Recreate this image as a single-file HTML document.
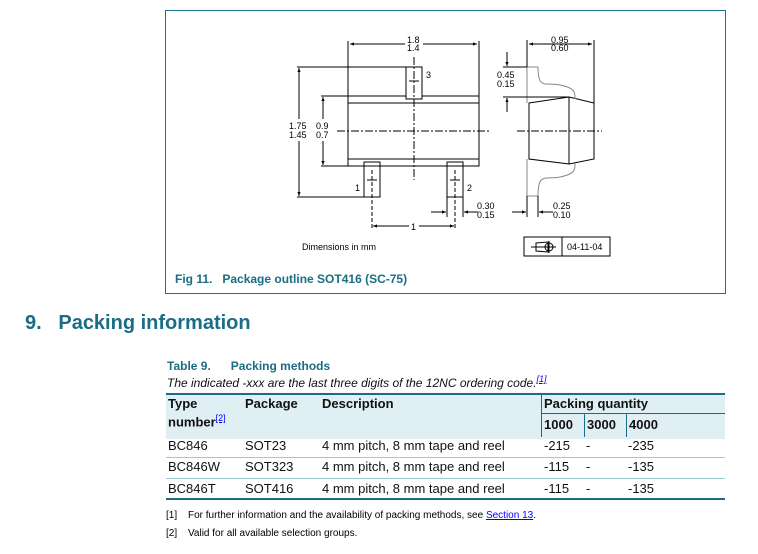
<!DOCTYPE html>
<html><head><meta charset="utf-8"><style>
body{margin:0;width:758px;height:554px;background:#fff;position:relative;font-family:"Liberation Sans",Arial,sans-serif;overflow:hidden}
.a{position:absolute;white-space:nowrap}
.t{color:#1b6c85;font-weight:bold}
.c{font-size:13px;color:#111}
</style></head><body>
<div class="a" style="left:165px;top:10px;width:559px;height:282px;border:1px solid #1b7390"></div>
<svg class="a" style="left:0;top:0" width="758" height="300" font-family="Liberation Sans,Arial,sans-serif" font-size="9" fill="#000">
<defs><marker id="ar" viewBox="0 0 10 10" refX="10" refY="5" markerWidth="6" markerHeight="4" orient="auto-start-reverse"><path d="M0,1L10,5L0,9z" fill="#000"/></marker></defs>
<g stroke="#000" stroke-width="1" fill="none">
<rect x="348" y="96" width="131" height="70"/>
<line x1="348" y1="103" x2="479" y2="103"/><line x1="348" y1="159" x2="479" y2="159"/>
<rect x="406" y="67" width="16" height="32" fill="#fff"/>
<rect x="364" y="162" width="16" height="35"/>
<rect x="447" y="162" width="16" height="35"/>
<line x1="409" y1="81" x2="419" y2="81"/><line x1="367" y1="180" x2="377" y2="180"/><line x1="450" y1="180" x2="460" y2="180"/>
<line x1="414" y1="57" x2="414" y2="180" stroke-dasharray="8,2,2,2"/>
<line x1="337" y1="131" x2="491" y2="131" stroke-dasharray="8,2,2,2"/>
<line x1="372" y1="170" x2="372" y2="230" stroke-dasharray="4,2"/>
<line x1="455" y1="170" x2="455" y2="230" stroke-dasharray="4,2"/>
<line x1="348" y1="41" x2="348" y2="96"/><line x1="479" y1="41" x2="479" y2="96"/>
<line x1="350" y1="44" x2="405" y2="44" marker-start="url(#ar)"/><line x1="423" y1="44" x2="477" y2="44" marker-end="url(#ar)"/>
<line x1="297" y1="67" x2="406" y2="67"/><line x1="297" y1="197" x2="364" y2="197"/>
<line x1="299" y1="68" x2="299" y2="119" marker-start="url(#ar)"/><line x1="299" y1="141" x2="299" y2="196" marker-end="url(#ar)"/>
<line x1="321" y1="96" x2="348" y2="96"/><line x1="321" y1="166" x2="348" y2="166"/>
<line x1="323" y1="97" x2="323" y2="119" marker-start="url(#ar)"/><line x1="323" y1="141" x2="323" y2="165" marker-end="url(#ar)"/>
<line x1="373" y1="226" x2="409" y2="226" marker-start="url(#ar)"/><line x1="419" y1="226" x2="454" y2="226" marker-end="url(#ar)"/>
<line x1="447" y1="197" x2="447" y2="217"/><line x1="463" y1="197" x2="463" y2="217"/>
<line x1="431" y1="212" x2="446" y2="212" marker-end="url(#ar)"/><line x1="478" y1="212" x2="464" y2="212" marker-end="url(#ar)"/>
<path d="M529,103 L569,97 L594,103 L594,159 L569,164 L529,159 Z"/>
<line x1="569" y1="97" x2="569" y2="164"/>
<line x1="517" y1="131" x2="602" y2="131" stroke-dasharray="8,2,2,2"/>
<path d="M527,103 L527,67 L538,67 C538,90 545,82 560,85 C575,88 575,92 575,99" stroke="#888"/>
<path d="M527,159 L527,196 L538,196 C538,172 545,180 560,177 C575,174 575,170 575,163" stroke="#888"/>
<line x1="527" y1="40" x2="527" y2="67"/><line x1="594" y1="40" x2="594" y2="103"/>
<line x1="529" y1="44" x2="592" y2="44" marker-start="url(#ar)" marker-end="url(#ar)"/>
<line x1="503" y1="67" x2="527" y2="67"/><line x1="503" y1="97" x2="569" y2="97"/>
<line x1="507" y1="52" x2="507" y2="66" marker-end="url(#ar)"/><line x1="507" y1="112" x2="507" y2="98" marker-end="url(#ar)"/>
<line x1="527" y1="196" x2="527" y2="217"/><line x1="538" y1="196" x2="538" y2="217"/>
<line x1="512" y1="212" x2="526" y2="212" marker-end="url(#ar)"/><line x1="553" y1="212" x2="539" y2="212" marker-end="url(#ar)"/>
<rect x="524" y="237" width="86" height="19"/><line x1="562" y1="237" x2="562" y2="256"/>
<path d="M531,247 L556,247 M536,243 L548,242 L548,252 L536,251 Z"/>
<circle cx="549" cy="247" r="4"/><line x1="549" y1="241" x2="549" y2="253"/>
</g>
<g>
<text x="407" y="43">1.8</text><text x="407" y="51">1.4</text>
<text x="426" y="78">3</text><text x="355" y="191">1</text><text x="467" y="191">2</text>
<text x="289" y="129">1.75</text><text x="289" y="138">1.45</text>
<text x="316" y="129">0.9</text><text x="316" y="138">0.7</text>
<text x="411" y="230">1</text>
<text x="477" y="209">0.30</text><text x="477" y="218">0.15</text>
<text x="551" y="43">0.95</text><text x="551" y="51">0.60</text>
<text x="497" y="78">0.45</text><text x="497" y="87">0.15</text>
<text x="553" y="209">0.25</text><text x="553" y="218">0.10</text>
<text x="302" y="250">Dimensions in mm</text>
<text x="567" y="250">04-11-04</text>
</g>
</svg>
<div class="a t" style="left:175px;top:272px;font-size:12px">Fig 11.&nbsp;&nbsp;&nbsp;Package outline SOT416 (SC-75)</div>
<div class="a t" style="left:25px;top:312px;font-size:20px">9.&nbsp;&nbsp;&nbsp;Packing information</div>
<div class="a t" style="left:167px;top:359px;font-size:12px">Table 9.&nbsp;&nbsp;&nbsp;&nbsp;&nbsp;&nbsp;Packing methods</div>
<div class="a c" style="left:167px;top:374px;font-size:12px;font-style:italic">The indicated -xxx are the last three digits of the 12NC ordering code.<span style="color:#00f;text-decoration:underline;font-size:9px;vertical-align:super">[1]</span></div>
<div class="a" style="left:166px;top:393px;width:559px;height:44px;background:#e0eff3;border-top:2px solid #1b6c85"></div>
<div class="a" style="left:541px;top:393px;width:1px;height:44px;background:#1b6c85"></div>
<div class="a" style="left:541px;top:413px;width:184px;height:1px;background:#1b6c85"></div>
<div class="a" style="left:584px;top:414px;width:1px;height:23px;background:#1b6c85"></div>
<div class="a" style="left:626px;top:414px;width:1px;height:23px;background:#1b6c85"></div>
<div class="a" style="left:166px;top:457px;width:559px;height:1px;background:#9cc9d5"></div>
<div class="a" style="left:166px;top:478px;width:559px;height:1px;background:#9cc9d5"></div>
<div class="a" style="left:166px;top:498px;width:559px;height:2px;background:#1b6c85"></div>
<div class="a c" style="left:168px;top:396px;font-weight:bold;line-height:15px">Type<br>number<span style="color:#00f;text-decoration:underline;font-size:9px;vertical-align:super;font-weight:normal">[2]</span></div>
<div class="a c" style="left:245px;top:396px;font-weight:bold">Package</div>
<div class="a c" style="left:322px;top:396px;font-weight:bold">Description</div>
<div class="a c" style="left:544px;top:396px;font-weight:bold">Packing quantity</div>
<div class="a c" style="left:544px;top:417px;font-weight:bold">1000</div>
<div class="a c" style="left:587px;top:417px;font-weight:bold">3000</div>
<div class="a c" style="left:629px;top:417px;font-weight:bold">4000</div>
<div class="a c" style="left:168px;top:438px">BC846</div><div class="a c" style="left:245px;top:438px">SOT23</div><div class="a c" style="left:322px;top:438px">4 mm pitch, 8 mm tape and reel</div><div class="a c" style="left:544px;top:438px">-215</div><div class="a c" style="left:586px;top:438px">-</div><div class="a c" style="left:628px;top:438px">-235</div>
<div class="a c" style="left:168px;top:459px">BC846W</div><div class="a c" style="left:245px;top:459px">SOT323</div><div class="a c" style="left:322px;top:459px">4 mm pitch, 8 mm tape and reel</div><div class="a c" style="left:544px;top:459px">-115</div><div class="a c" style="left:586px;top:459px">-</div><div class="a c" style="left:628px;top:459px">-135</div>
<div class="a c" style="left:168px;top:481px">BC846T</div><div class="a c" style="left:245px;top:481px">SOT416</div><div class="a c" style="left:322px;top:481px">4 mm pitch, 8 mm tape and reel</div><div class="a c" style="left:544px;top:481px">-115</div><div class="a c" style="left:586px;top:481px">-</div><div class="a c" style="left:628px;top:481px">-135</div>
<div class="a" style="left:166px;top:510px;font-size:10px">[1]</div>
<div class="a" style="left:188px;top:510px;font-size:10px">For further information and the availability of packing methods, see <span style="color:#00f;text-decoration:underline">Section 13</span>.</div>
<div class="a" style="left:166px;top:528px;font-size:10px">[2]</div>
<div class="a" style="left:188px;top:528px;font-size:10px">Valid for all available selection groups.</div>
</body></html>
